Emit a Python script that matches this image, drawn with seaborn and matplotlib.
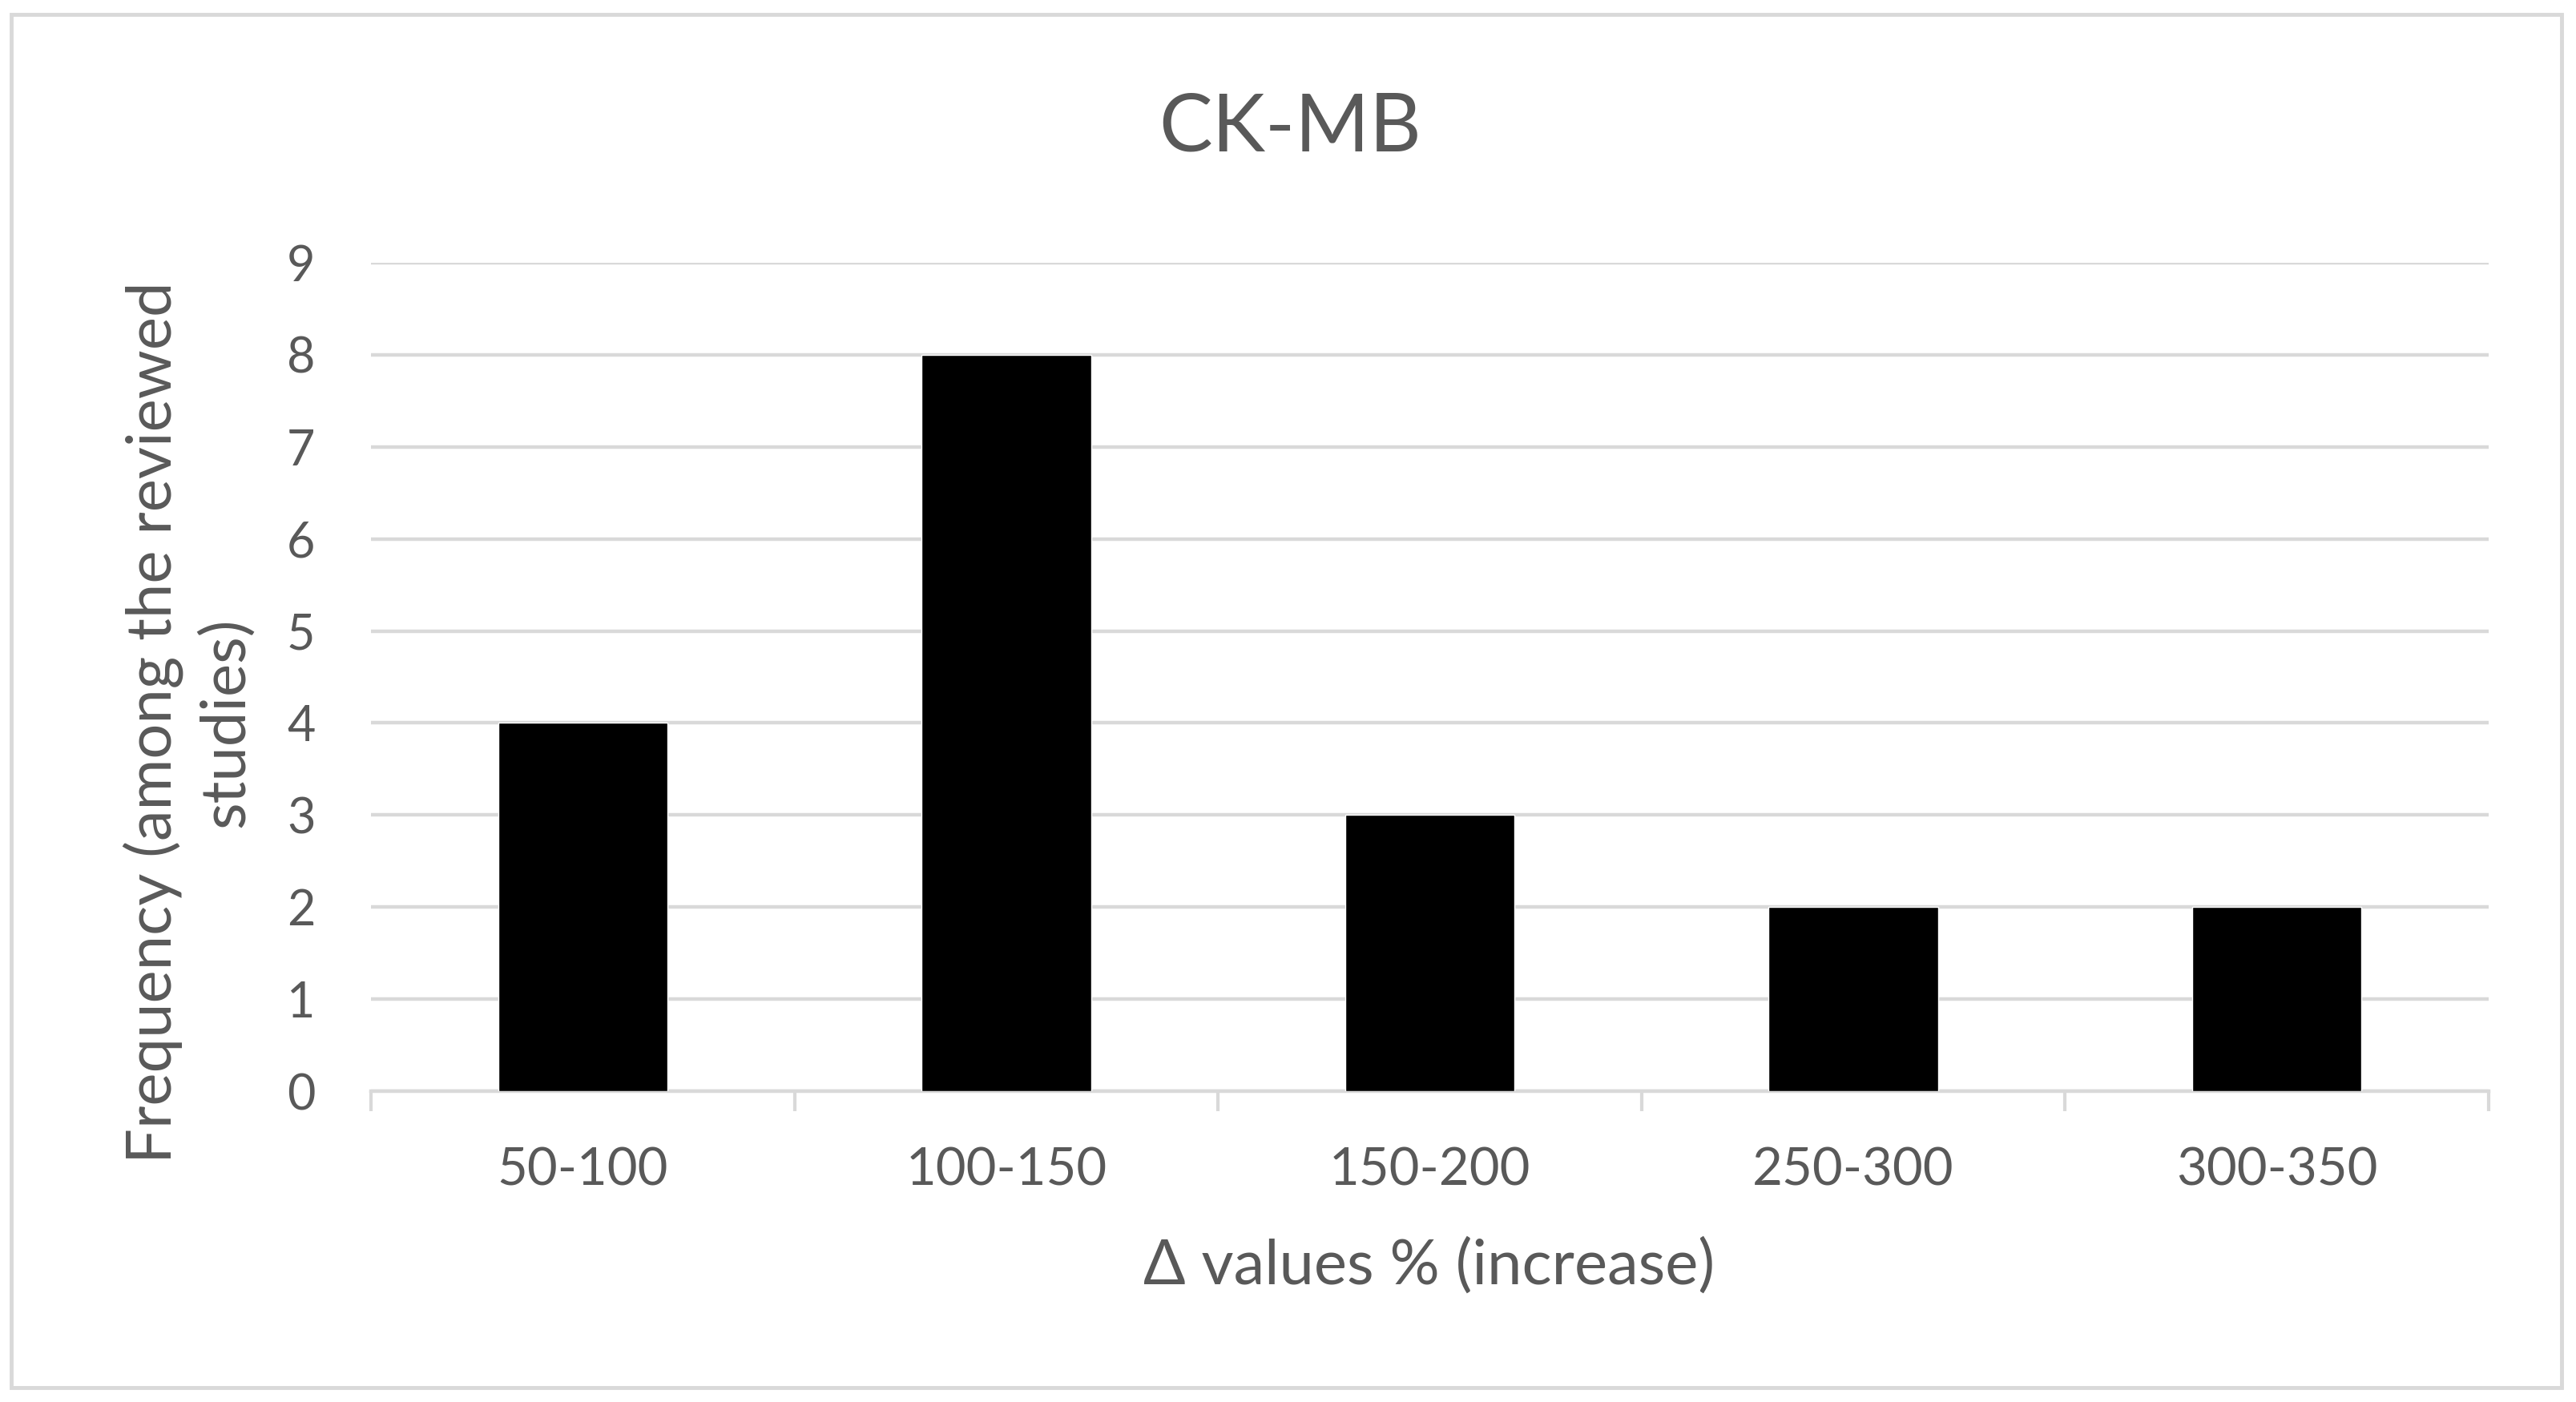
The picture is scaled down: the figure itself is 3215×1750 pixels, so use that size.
import numpy as np
import pandas as pd
import seaborn as sns
import matplotlib.pyplot as plt
from matplotlib.patches import Rectangle

# data
categories = ["50-100", "100-150", "150-200", "250-300", "300-350"]
frequency = [4, 8, 3, 2, 2]

df = pd.DataFrame({"range": categories, "freq": frequency})

sns.set_style("white")
plt.rcParams['font.family'] = ['Lato', 'DejaVu Sans']

text_col = '#595959'
grid_col = '#d9d9d9'

W, H = 3215, 1750
fig = plt.figure(figsize=(W / 100, H / 100), dpi=100)

# outer chart frame
fig.patches.append(Rectangle((14 / W, 18 / H), (3197 - 14) / W, (1732 - 18) / H,
                             transform=fig.transFigure, fill=False,
                             edgecolor=grid_col, linewidth=3.5))

ax = fig.add_axes([463 / W, 1 - 1362 / H, (3106 - 463) / W, (1362 - 328) / H])
sns.barplot(data=df, x="range", y="freq", color='black', width=0.4,
            saturation=1, ax=ax, zorder=3)

ax.set_ylim(0, 9)
ax.set_xlim(-0.5, 4.5)
ax.set_yticks(range(0, 10))
ax.yaxis.grid(True, color=grid_col, linewidth=3.2, zorder=0)
ax.set_axisbelow(True)
for s in ['top', 'left', 'right']:
    ax.spines[s].set_visible(False)
ax.spines['bottom'].set_color(grid_col)
ax.spines['bottom'].set_linewidth(3.2)

# category boundary ticks, Excel style
ax.set_xticks(np.arange(-0.5, 5, 1), minor=True)
ax.tick_params(axis='x', which='minor', bottom=True, length=18, width=3,
               color=grid_col, direction='out')
ax.tick_params(axis='x', which='major', length=0, pad=50, labelsize=47, labelcolor=text_col)
ax.tick_params(axis='y', length=0, pad=50, labelsize=44, labelcolor=text_col)

ax.set_xlabel('')
ax.set_ylabel('')

fig.text(1784 / W, 1 - 1581 / H, 'Δ values % (increase)', ha='center', va='center',
         fontsize=56, color=text_col)
fig.text(236 / W, 1 - 902 / H, 'Frequency (among the reviewed\nstudies)', ha='center', va='center',
         rotation=90, multialignment='center', fontsize=56, color=text_col, linespacing=1.3)
fig.text(1610 / W, 1 - 160 / H, 'CK-MB', ha='center', va='center',
         fontsize=72, color=text_col)

plt.savefig('out.png', dpi=100)
